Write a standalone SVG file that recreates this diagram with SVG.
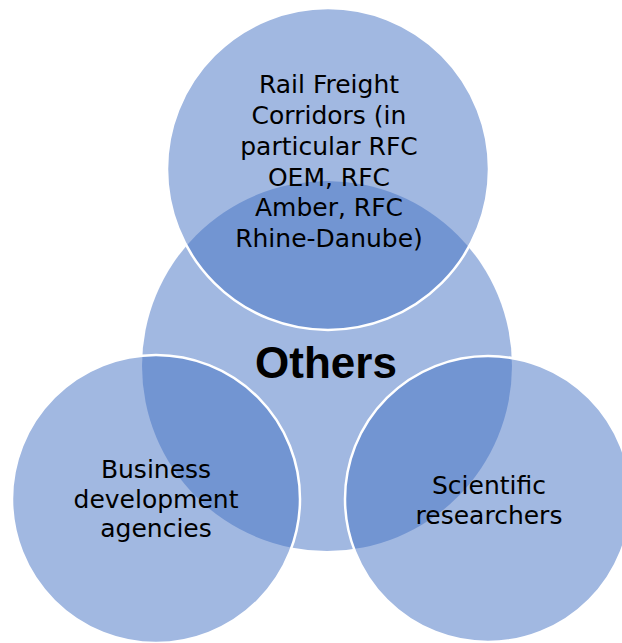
<svg xmlns="http://www.w3.org/2000/svg" width="622" height="643" viewBox="0 0 622 643">
<style>
.c{fill:#4472C4;fill-opacity:0.5}
.o{stroke:#FFFFFF;stroke-width:2.5}
.t{font-family:"DejaVu Sans","Open Sans",sans-serif;font-size:25px;fill:#000;text-anchor:middle}
.b{font-family:"Liberation Sans",Arial,sans-serif;font-size:44px;font-weight:bold;fill:#000;text-anchor:middle}
</style>
<rect width="622" height="643" fill="#FFFFFF"/>
<g id="others">
<circle class="c" cx="327" cy="366" r="185"/>
</g>
<g id="rail-freight-corridors">
<circle class="c o" cx="328" cy="169" r="161"/>
<text class="t" x="329"><tspan x="329" y="93">Rail Freight</tspan><tspan x="329" y="124">Corridors (in</tspan><tspan x="329" y="155">particular RFC</tspan><tspan x="329" y="186">OEM, RFC</tspan><tspan x="329" y="216">Amber, RFC</tspan><tspan x="329" y="247">Rhine-Danube)</tspan></text>
</g>
<g id="business-development-agencies">
<circle class="c o" cx="156" cy="499" r="144"/>
<text class="t"><tspan x="156" y="478">Business</tspan><tspan x="156" y="508">development</tspan><tspan x="156" y="537">agencies</tspan></text>
</g>
<g id="scientific-researchers">
<circle class="c o" cx="488" cy="499" r="143"/>
<text class="t"><tspan x="489" y="494">Scientific</tspan><tspan x="489" y="524">researchers</tspan></text>
</g>
<g id="others-label">
<text class="b" x="326" y="378">Others</text>
</g>
<g id="connectors"></g>
</svg>
